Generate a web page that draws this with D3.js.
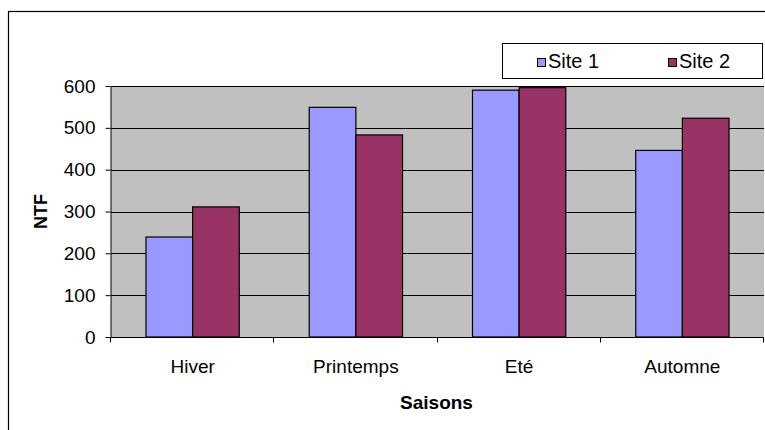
<!DOCTYPE html>
<html>
<head>
<meta charset="utf-8">
<script src="https://cdn.jsdelivr.net/npm/d3@7"></script>
<style>
  html, body { margin: 0; padding: 0; background: #fff; }
  svg { display: block; font-family: "Liberation Sans", Arial, sans-serif; }
</style>
</head>
<body>
<svg id="chart" width="765" height="430"></svg>
<script>
// Seasonal NTF values for two sites
const seasons = ["Hiver", "Printemps", "Eté", "Automne"];
const seriesNames = ["Site 1", "Site 2"];
const site1 = [239, 549, 590, 446];
const site2 = [311, 483, 596, 523];
const yTicks = [0, 100, 200, 300, 400, 500, 600];
const colors = ["#9999FF", "#993366"];

const svg = d3.select("#chart");
const fontSize = 19;

// Frame around the whole chart
svg.append("rect")
  .attr("x", 8.5).attr("y", 11.5)
  .attr("width", 800).attr("height", 440)
  .attr("fill", "#fff").attr("stroke", "#000").attr("stroke-width", 1.2);

const plot = { left: 111, right: 764, top: 86, bottom: 337 };

const x0 = d3.scaleBand().domain(seasons).range([plot.left, plot.right]).paddingInner(0).paddingOuter(0);
const x1 = d3.scaleBand().domain(seriesNames).range([0, x0.bandwidth()]).paddingInner(0).paddingOuter(0.75);
const y = d3.scaleLinear().domain([0, 600]).range([plot.bottom, plot.top]);

// Plot background
svg.append("rect")
  .attr("x", plot.left).attr("y", plot.top)
  .attr("width", plot.right - plot.left).attr("height", plot.bottom - plot.top)
  .attr("fill", "#C0C0C0");

// Horizontal gridlines
svg.append("g").selectAll("line")
  .data(yTicks.filter(d => d > 0))
  .join("line")
  .attr("x1", plot.left).attr("x2", plot.right)
  .attr("y1", d => Math.round(y(d)) + 0.5).attr("y2", d => Math.round(y(d)) + 0.5)
  .attr("stroke", "#000").attr("stroke-width", 1);

// Bars
const rows = seasons.map((s, i) => ({ season: s, values: [site1[i], site2[i]] }));
const groups = svg.append("g").selectAll("g")
  .data(rows)
  .join("g")
  .attr("transform", d => `translate(${x0(d.season)},0)`);

groups.selectAll("rect")
  .data(d => d.values.map((v, j) => ({ name: seriesNames[j], value: v, color: colors[j] })))
  .join("rect")
  .attr("x", d => x1(d.name))
  .attr("y", d => y(d.value))
  .attr("width", x1.bandwidth())
  .attr("height", d => y(0) - y(d.value))
  .attr("fill", d => d.color)
  .attr("stroke", "#000")
  .attr("stroke-width", 1.2);

// Y axis
const yAxis = d3.axisLeft(y).tickValues(yTicks).tickSize(5).tickPadding(10).tickSizeOuter(0);
const gy = svg.append("g").attr("transform", `translate(${plot.left - 0.5},0)`).call(yAxis);
gy.select(".domain").attr("stroke", "#000");
gy.selectAll(".tick line").attr("stroke", "#000");
gy.selectAll(".tick text").attr("font-size", fontSize).attr("fill", "#000")
  .attr("font-family", "Liberation Sans, Arial, sans-serif");

// X axis: category labels centered, tick marks at category boundaries
const gx = svg.append("g").attr("transform", `translate(0,${plot.bottom + 0.5})`);
gx.append("line")
  .attr("x1", plot.left - 1).attr("x2", plot.right)
  .attr("stroke", "#000");
const bounds = seasons.map(s => x0(s)).concat([x0(seasons[seasons.length - 1]) + x0.bandwidth()]);
gx.selectAll("line.tk")
  .data(bounds)
  .join("line")
  .attr("class", "tk")
  .attr("x1", d => Math.round(d) - 0.5).attr("x2", d => Math.round(d) - 0.5)
  .attr("y1", 0).attr("y2", 5)
  .attr("stroke", "#000");
gx.selectAll("text")
  .data(seasons)
  .join("text")
  .attr("x", d => x0(d) + x0.bandwidth() / 2)
  .attr("y", 35)
  .attr("text-anchor", "middle")
  .attr("font-size", fontSize)
  .attr("fill", "#000")
  .text(d => d);

// Axis titles
svg.append("text")
  .attr("x", (plot.left + plot.right) / 2 - 1)
  .attr("y", 409)
  .attr("text-anchor", "middle")
  .attr("font-size", fontSize)
  .attr("font-weight", "bold")
  .text("Saisons");

svg.append("text")
  .attr("transform", `translate(47,${(plot.top + plot.bottom) / 2}) rotate(-90)`)
  .attr("text-anchor", "middle")
  .attr("font-size", 18)
  .attr("font-weight", "bold")
  .text("NTF");

// Legend
const legend = svg.append("g");
legend.append("rect")
  .attr("x", 502.5).attr("y", 43.5)
  .attr("width", 260).attr("height", 35)
  .attr("fill", "#fff").attr("stroke", "#000").attr("stroke-width", 1);
const legendX = [537, 668];
seriesNames.forEach((name, j) => {
  legend.append("rect")
    .attr("x", legendX[j] + 0.5).attr("y", 58.5)
    .attr("width", 8).attr("height", 8)
    .attr("fill", colors[j]).attr("stroke", "#000").attr("stroke-width", 1);
  legend.append("text")
    .attr("x", legendX[j] + 11).attr("y", 67.5)
    .attr("font-size", 20)
    .attr("fill", "#000")
    .text(name);
});
</script>
</body>
</html>
